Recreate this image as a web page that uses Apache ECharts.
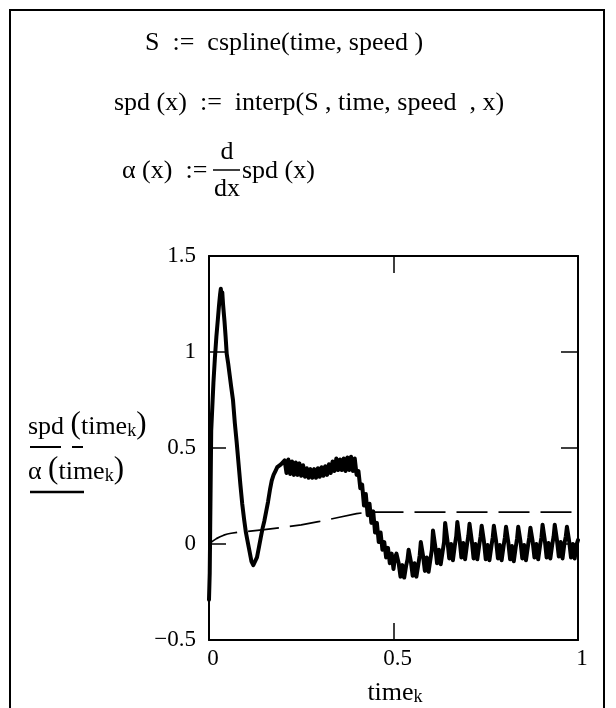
<!DOCTYPE html>
<html><head><meta charset="utf-8">
<script src="https://cdn.jsdelivr.net/npm/echarts@6/dist/echarts.min.js"></script>
<style>html,body{margin:0;padding:0;background:#fff}#c{width:616px;height:708px}</style>
</head><body><div id="c"></div>
<script>
// Tick labels
const xTicks = [0, 0.5, 1];
const yTicks = [-0.5, 0, 0.5, 1, 1.5];

// spd(time_k) trace (dashed)
const spdTime = [0, 0.01, 0.02, 0.03, 0.04, 0.05, 0.06, 0.08, 0.10, 0.15, 0.20, 0.25, 0.30, 0.35, 0.40, 0.42, 0.45, 0.50, 0.60, 0.70, 0.80, 0.90, 1.00];
const spdValue = [0, 0.015, 0.028, 0.038, 0.046, 0.052, 0.056, 0.062, 0.065, 0.075, 0.087, 0.100, 0.118, 0.138, 0.158, 0.163, 0.166, 0.166, 0.166, 0.166, 0.166, 0.166, 0.166];

// alpha(time_k) trace (solid, thick)
const alphaTime = [
  0, 0.002, 0.005, 0.006, 0.011, 0.012, 0.016, 0.020, 0.024, 0.027, 0.030, 0.032, 0.034, 0.036, 0.038, 0.042, 0.045, 0.048,
  0.052, 0.056, 0.060, 0.065, 0.070, 0.075, 0.080, 0.085, 0.090, 0.095, 0.100, 0.105, 0.110, 0.115, 0.120, 0.125, 0.130,
  0.135, 0.140, 0.145, 0.150, 0.155, 0.160, 0.165, 0.170, 0.175, 0.180, 0.185, 0.190, 0.195,
  0.200, 0.205, 0.210, 0.215, 0.220, 0.225, 0.230, 0.235, 0.240, 0.245, 0.250, 0.255, 0.260, 0.265, 0.270, 0.275,
  0.280, 0.285, 0.290, 0.295, 0.300, 0.305, 0.310, 0.315, 0.320, 0.325, 0.330, 0.335, 0.340, 0.345, 0.350, 0.355,
  0.360, 0.365, 0.370, 0.375, 0.380, 0.385, 0.390, 0.395, 0.400, 0.405, 0.410, 0.415, 0.420, 0.425, 0.430, 0.435,
  0.440, 0.445, 0.450, 0.455, 0.460, 0.465, 0.470, 0.475, 0.480, 0.485, 0.490, 0.495, 0.500, 0.504,
  0.508, 0.514, 0.519, 0.524, 0.529, 0.534, 0.538,
  0.541, 0.547, 0.552, 0.557, 0.562, 0.567, 0.571,
  0.574, 0.580, 0.585, 0.590, 0.595, 0.600, 0.604,
  0.607, 0.613, 0.618, 0.623, 0.628, 0.633, 0.637,
  0.640, 0.646, 0.651, 0.656, 0.661, 0.666, 0.670,
  0.673, 0.679, 0.684, 0.689, 0.694, 0.699, 0.703,
  0.706, 0.712, 0.717, 0.722, 0.727, 0.732, 0.736,
  0.739, 0.745, 0.750, 0.755, 0.760, 0.765, 0.769,
  0.772, 0.778, 0.783, 0.788, 0.793, 0.798, 0.802,
  0.805, 0.811, 0.816, 0.821, 0.826, 0.831, 0.835,
  0.838, 0.844, 0.849, 0.854, 0.859, 0.864, 0.868,
  0.871, 0.877, 0.882, 0.887, 0.892, 0.897, 0.901,
  0.904, 0.910, 0.915, 0.920, 0.925, 0.930, 0.934,
  0.937, 0.943, 0.948, 0.953, 0.958, 0.963, 0.967,
  0.970, 0.976, 0.981, 0.986, 0.991, 0.996, 1.000
];
const alphaValue = [
  -0.29, -0.15, -0.14, 0.59, 0.60, 0.84, 0.97, 1.08, 1.17, 1.24, 1.30, 1.33, 1.29, 1.31, 1.25, 1.16, 1.08, 0.99,
  0.94, 0.88, 0.82, 0.75, 0.63, 0.53, 0.42, 0.31, 0.21, 0.13, 0.06, 0.01, -0.04, -0.09, -0.11, -0.10, -0.07,
  -0.02, 0.03, 0.08, 0.12, 0.17, 0.22, 0.28, 0.33, 0.36, 0.38, 0.40, 0.41, 0.415,
  0.42, 0.435, 0.37, 0.44, 0.365, 0.43, 0.36, 0.425, 0.36, 0.42, 0.355, 0.41, 0.35, 0.395, 0.345, 0.39,
  0.345, 0.39, 0.345, 0.395, 0.35, 0.40, 0.355, 0.405, 0.36, 0.415, 0.37, 0.43, 0.38, 0.445, 0.385, 0.44,
  0.385, 0.445, 0.38, 0.45, 0.385, 0.455, 0.38, 0.445, 0.36, 0.38, 0.29, 0.31, 0.20, 0.26, 0.15, 0.21,
  0.11, 0.17, 0.06, 0.11, 0.01, 0.06, -0.03, 0.01, -0.07, -0.02, -0.10, -0.05, -0.13, -0.07,
  -0.05, -0.10, -0.17, -0.11, -0.175, -0.115, -0.08,
  -0.03, -0.09, -0.165, -0.10, -0.17, -0.11, -0.06,
  0.01, -0.06, -0.14, -0.07, -0.145, -0.08, -0.03,
  0.07, -0.01, -0.10, -0.03, -0.105, -0.04, 0.01,
  0.11, 0.02, -0.075, 0.00, -0.085, -0.01, 0.04,
  0.115, 0.025, -0.07, 0.005, -0.08, -0.005, 0.045,
  0.105, 0.02, -0.075, 0.00, -0.08, -0.01, 0.04,
  0.095, 0.015, -0.08, -0.005, -0.085, -0.015, 0.035,
  0.095, 0.015, -0.075, -0.005, -0.085, -0.015, 0.035,
  0.09, 0.01, -0.08, -0.01, -0.09, -0.02, 0.03,
  0.09, 0.015, -0.075, -0.005, -0.085, -0.015, 0.035,
  0.085, 0.015, -0.07, 0.00, -0.08, -0.01, 0.035,
  0.10, 0.02, -0.07, 0.005, -0.075, -0.005, 0.04,
  0.10, 0.02, -0.065, 0.01, -0.075, 0.00, 0.04,
  0.09, 0.015, -0.07, 0.00, -0.075, -0.005, 0.02
];

const FONT = '"Liberation Serif", "Times New Roman", serif';
const chart = echarts.init(document.getElementById('c'), null, {renderer: 'canvas'});

function fmt(v) {
  return v < 0 ? '\u2212' + String(Math.abs(v)) : String(v);
}

const tickStep = xTicks[1] - xTicks[0];
const yStep = yTicks[1] - yTicks[0];

function xAx(pos, showLabel) {
  return {
    type: 'value', position: pos, min: xTicks[0], max: xTicks[xTicks.length - 1], interval: tickStep,
    axisLine: {show: true, onZero: false, lineStyle: {color: '#000', width: 2}},
    axisTick: {show: true, inside: true, length: 17, lineStyle: {color: '#000', width: 1.5}},
    axisLabel: {show: showLabel, color: '#000', fontFamily: FONT, fontSize: 23, margin: 7,
      padding: [0, 0, 0, 8], formatter: fmt},
    splitLine: {show: false}
  };
}
function yAx(pos, showLabel) {
  return {
    type: 'value', position: pos, min: yTicks[0], max: yTicks[yTicks.length - 1], interval: yStep,
    axisLine: {show: true, onZero: false, lineStyle: {color: '#000', width: 2}},
    axisTick: {show: true, inside: true, length: 17, lineStyle: {color: '#000', width: 1.5}},
    axisLabel: {show: showLabel, color: '#000', fontFamily: FONT, fontSize: 23, margin: 13,
      padding: [6, 0, 0, 0], formatter: fmt},
    splitLine: {show: false}
  };
}

const richBase = {
  a: {fontFamily: FONT, fontSize: 26, color: '#000', lineHeight: 32, verticalAlign: 'bottom'},
  p: {fontFamily: FONT, fontSize: 31, color: '#000', lineHeight: 32, verticalAlign: 'bottom'},
  s: {fontFamily: FONT, fontSize: 18, color: '#000', lineHeight: 15, verticalAlign: 'bottom'}
};

function txt(x, y, s, size, align) {
  return {type: 'text', x: x, y: y, style: {text: s, fill: '#000', font: size + 'px ' + FONT,
    textAlign: align || 'left', textVerticalAlign: 'middle'}};
}

const option = {
  animation: false,
  backgroundColor: '#fff',
  grid: {left: 209, top: 256, width: 369, height: 384, containLabel: false},
  xAxis: [xAx('bottom', true), xAx('top', false)],
  yAxis: [yAx('left', true), yAx('right', false)],
  series: [
    {
      name: 'spd', type: 'line', xAxisIndex: 0, yAxisIndex: 0, showSymbol: false, smooth: false,
      lineStyle: {color: '#000', width: 1.7, type: [31, 11]},
      data: spdTime.map((t, i) => [t, spdValue[i]]), z: 2
    },
    {
      name: 'alpha', type: 'line', xAxisIndex: 0, yAxisIndex: 0, showSymbol: false, smooth: false,
      lineStyle: {color: '#000', width: 4, join: 'round', cap: 'round'},
      data: alphaTime.map((t, i) => [t, alphaValue[i]]), z: 3
    }
  ],
  graphic: [
    {type: 'rect', shape: {x: 10, y: 10, width: 594, height: 720}, style: {fill: 'none', stroke: '#000', lineWidth: 2}},
    txt(145, 43, 'S  :=  cspline(time, speed )', 26),
    txt(114, 103, 'spd (x)  :=  interp(S , time, speed  , x)', 26),
    txt(122, 171, '\u03b1 (x)  :=', 26),
    txt(227, 152, 'd', 26, 'center'),
    {type: 'line', shape: {x1: 213, y1: 170, x2: 240, y2: 170}, style: {stroke: '#000', lineWidth: 1.5}},
    txt(227, 189, 'dx', 26, 'center'),
    txt(242, 171, 'spd (x)', 26),
    {type: 'text', x: 28, y: 424, style: {text: '{a|spd }{p|(}{a|time}{s|k}{p|)}', rich: richBase,
      textAlign: 'left', textVerticalAlign: 'middle'}},
    {type: 'line', shape: {x1: 30, y1: 447, x2: 83, y2: 447}, style: {stroke: '#000', lineWidth: 2, lineDash: [31, 11]}},
    {type: 'text', x: 28, y: 469, style: {text: '{a|\u03b1 }{p|(}{a|time}{s|k}{p|)}', rich: richBase,
      textAlign: 'left', textVerticalAlign: 'middle'}},
    {type: 'line', shape: {x1: 30, y1: 492, x2: 84, y2: 492}, style: {stroke: '#000', lineWidth: 2.5}},
    {type: 'text', x: 395, y: 690, style: {text: '{a|time}{s|k}', rich: richBase,
      textAlign: 'center', textVerticalAlign: 'middle'}}
  ]
};
chart.setOption(option);
</script>
</body></html>
